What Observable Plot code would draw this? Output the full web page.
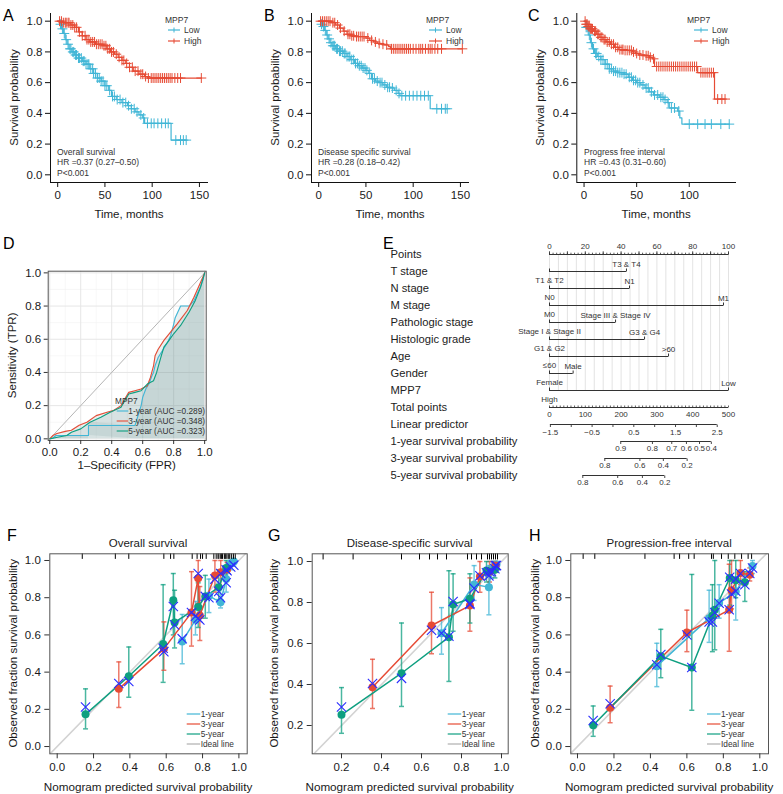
<!DOCTYPE html>
<html><head><meta charset="utf-8">
<script src="https://cdn.jsdelivr.net/npm/d3@7"></script>
<script src="https://cdn.jsdelivr.net/npm/@observablehq/plot@0.6"></script>
<style>
body{margin:0;background:#fff;}
#root{position:relative;width:783px;height:794px;overflow:hidden;font-family:"Liberation Sans",Arial,sans-serif;background:#fff;}
#root svg{overflow:visible;max-width:none;}
</style></head><body><div id="root"></div>
<script>
// ================= DATA =================
// --- Kaplan-Meier (A, B, C): step times (months) and survival ---
const kmGroups = ["Low", "High"];
const lowA_t = [0, 2, 4, 6, 8, 10, 12, 15, 18, 22, 26, 30, 34, 38, 42, 46, 50, 54, 57, 62, 68, 74, 78, 82, 86, 90, 92, 120, 136];
const lowA_s = [1.0, 0.98, 0.95, 0.92, 0.88, 0.85, 0.82, 0.80, 0.78, 0.76, 0.74, 0.72, 0.69, 0.66, 0.63, 0.61, 0.58, 0.55, 0.51, 0.49, 0.47, 0.45, 0.43, 0.41, 0.39, 0.37, 0.335, 0.226, 0.226];
const highA_t = [0, 6, 14, 18, 22, 26, 30, 34, 40, 48, 52, 56, 60, 64, 68, 72, 76, 80, 86, 92, 95, 152];
const highA_s = [1.0, 0.99, 0.975, 0.96, 0.93, 0.905, 0.88, 0.865, 0.85, 0.84, 0.82, 0.80, 0.785, 0.765, 0.745, 0.725, 0.70, 0.675, 0.655, 0.64, 0.63, 0.63];
const lowA_cens = [3,5,7,9,11,13,14,16,17,19,20,22,23,25,27,28,30,32,33,35,37,38,40,42,44,46,48,50,52,55,58,60,63,66,69,72,75,78,81,84,88,91,95,99,102,106,110,114,117,125,130,133,136];
const highA_cens = [2,4,6,8,9,11,12,14,16,18,20,23,26,29,31,33,35,37,39,41,43,45,47,49,51,53,55,57,59,62,65,68,70,73,76,79,82,85,88,90,93,96,99,101,103,105,107,109,111,113,115,117,119,121,124,127,130,152];

const lowB_t = [0, 2, 4, 6, 8, 10, 12, 14, 18, 22, 26, 30, 34, 38, 42, 46, 50, 53, 56, 60, 64, 68, 72, 76, 80, 84, 86, 118, 136];
const lowB_s = [1.0, 0.98, 0.965, 0.94, 0.91, 0.885, 0.86, 0.84, 0.82, 0.805, 0.79, 0.77, 0.75, 0.725, 0.71, 0.695, 0.68, 0.66, 0.625, 0.61, 0.60, 0.585, 0.57, 0.565, 0.55, 0.53, 0.515, 0.43, 0.43];
const highB_t = [0, 14, 18, 22, 26, 30, 34, 38, 50, 54, 58, 62, 66, 70, 74, 76, 152];
const highB_s = [1.0, 0.99, 0.975, 0.955, 0.935, 0.915, 0.905, 0.90, 0.89, 0.875, 0.865, 0.855, 0.85, 0.845, 0.835, 0.82, 0.82];
const lowB_cens = [3,5,7,9,11,13,15,16,17,19,20,22,23,25,27,28,30,32,33,35,37,39,41,43,45,47,49,51,54,57,59,62,65,67,70,73,75,78,82,85,88,92,96,100,104,108,112,116,125,130,134,136];
const highB_cens = [2,4,6,8,10,12,15,17,20,23,27,31,33,35,37,40,42,44,46,48,52,56,60,64,68,72,77,79,81,83,85,87,89,91,93,95,97,100,103,106,108,110,113,116,118,120,123,126,130,152];

const lowC_t = [0, 2, 4, 6, 8, 10, 13, 16, 20, 24, 28, 32, 38, 42, 46, 50, 54, 58, 62, 66, 72, 76, 79, 81, 89, 91, 93, 138];
const lowC_s = [1.0, 0.96, 0.91, 0.86, 0.82, 0.79, 0.77, 0.75, 0.72, 0.69, 0.675, 0.665, 0.655, 0.635, 0.615, 0.60, 0.585, 0.565, 0.54, 0.52, 0.505, 0.49, 0.47, 0.435, 0.415, 0.37, 0.33, 0.33];
const highC_t = [0, 2, 4, 6, 9, 12, 15, 18, 21, 25, 29, 33, 38, 46, 49, 52, 58, 62, 65, 67, 108, 124, 134];
const highC_s = [1.0, 0.98, 0.965, 0.95, 0.935, 0.915, 0.895, 0.88, 0.865, 0.85, 0.83, 0.815, 0.81, 0.80, 0.79, 0.78, 0.775, 0.765, 0.755, 0.705, 0.665, 0.493, 0.493];
const lowC_cens = [2,3,5,7,9,11,12,14,16,18,20,22,24,26,28,30,32,34,36,38,40,43,45,47,49,51,53,56,59,61,64,67,70,73,75,77,80,83,86,90,100,108,115,121,130,138];
const highC_cens = [1,2,3,4,5,6,7,8,10,11,13,14,16,17,19,20,22,24,26,28,30,32,34,36,37,39,41,43,45,47,50,53,56,59,61,63,66,69,71,73,75,77,79,81,83,85,87,89,91,93,95,97,99,101,103,105,107,111,113,115,117,119,121,123,127,131,134];

const kmYTicks = [0, 0.2, 0.4, 0.6, 0.8, 1.0];

// --- ROC (D) ---
const rocNames = ["1-year (AUC =0.289)", "3-year (AUC =0.348)", "5-year (AUC =0.323)"];
const roc1_fpr = [0, 0.02, 0.04, 0.14, 0.25, 0.25, 0.55, 0.59, 0.60, 0.62, 0.64, 0.66, 0.67, 0.68, 0.70, 0.72, 0.74, 0.76, 0.78, 0.80, 0.81, 0.845, 0.90, 0.93, 0.95, 0.974, 0.99, 1.0];
const roc1_tpr = [0, 0.005, 0.02, 0.02, 0.02, 0.08, 0.08, 0.20, 0.25, 0.30, 0.33, 0.38, 0.40, 0.44, 0.49, 0.52, 0.55, 0.58, 0.62, 0.69, 0.73, 0.80, 0.80, 0.83, 0.87, 0.92, 0.96, 1.0];
const roc3_fpr = [0, 0.02, 0.047, 0.10, 0.14, 0.19, 0.24, 0.30, 0.37, 0.41, 0.46, 0.51, 0.55, 0.59, 0.63, 0.65, 0.67, 0.68, 0.70, 0.737, 0.78, 0.823, 0.888, 0.931, 0.974, 1.0];
const roc3_tpr = [0, 0.02, 0.032, 0.045, 0.052, 0.082, 0.10, 0.14, 0.16, 0.17, 0.20, 0.28, 0.29, 0.30, 0.32, 0.37, 0.44, 0.50, 0.54, 0.593, 0.643, 0.693, 0.773, 0.853, 0.944, 1.0];
const roc5_fpr = [0, 0.05, 0.11, 0.14, 0.20, 0.26, 0.33, 0.39, 0.46, 0.51, 0.55, 0.59, 0.63, 0.67, 0.69, 0.72, 0.737, 0.77, 0.80, 0.845, 0.90, 0.94, 0.974, 1.0];
const roc5_tpr = [0, 0.01, 0.02, 0.04, 0.06, 0.10, 0.13, 0.16, 0.19, 0.27, 0.28, 0.29, 0.33, 0.35, 0.40, 0.50, 0.553, 0.593, 0.633, 0.683, 0.764, 0.834, 0.914, 1.0];
const rocMajor = [0, 0.2, 0.4, 0.6, 0.8, 1.0];
const rocMinor = [0.1, 0.3, 0.5, 0.7, 0.9];

// --- Nomogram (E) ---
const nomoRows = ["Points", "T stage", "N stage", "M stage", "Pathologic stage", "Histologic grade", "Age", "Gender", "MPP7", "Total points", "Linear predictor", "1-year survival probability", "3-year survival probability", "5-year survival probability"];
const nomoVars = ["T stage", "N stage", "M stage", "Pathologic stage", "Histologic grade", "Age", "Gender", "MPP7"];
const nomoLevelNames = [["T1 & T2", "T3 & T4"], ["N0", "N1"], ["M0", "M1"], ["Stage I & Stage II", "Stage III & Stage IV"], ["G1 & G2", "G3 & G4"], ["≤60", ">60"], ["Female", "Male"], ["High", "Low"]];
const nomoLevelPoints = [[0, 43], [0, 44.7], [0, 97.2], [0, 36.9], [0, 53.1], [0, 66.5], [0, 13.2], [0, 100]];
const pointsLabels = [0, 20, 40, 60, 80, 100];
const totalLabels = [0, 100, 200, 300, 400, 500];
const totalMax = 500;
const lpTicks = [-1.5, -1, -0.5, 0, 0.5, 1, 1.5, 2, 2.5];
const lpLabels = [-1.5, -0.5, 0.5, 1.5, 2.5];
const lpAtPoints = [[-1.5, 0.5], [2.5, 93.7]]; // linear predictor value at points position
const survProbs = [[0.9, 0.8, 0.7, 0.6, 0.5, 0.4], [0.8, 0.6, 0.4, 0.2], [0.8, 0.6, 0.4, 0.2]];
const survPointsPos = [[39.8, 57.5, 68.3, 76.5, 83.8, 90.4], [30.9, 50.5, 63.6, 76.9], [18.6, 38.1, 51.9, 64.4]];

// --- Calibration (F, G, H) ---
const calYears = ["1-year", "3-year", "5-year"];
// F: overall survival
const F1_p = [0.688, 0.761, 0.835, 0.899, 0.93, 0.955, 0.972];
const F1_o = [0.564, 0.681, 0.81, 0.775, 0.90, 0.985, 0.995];
const F1_lo = [0.445, 0.60, 0.72, 0.745, 0.83, 0.95, 0.97];
const F1_hi = [0.71, 0.78, 0.90, 0.90, 0.97, 1.0, 1.0];
const F1_x = [0.58, 0.70, 0.80, 0.80, 0.88, 0.965, 0.975];
const F3_p = [0.339, 0.587, 0.739, 0.776, 0.785, 0.868, 0.90, 0.935];
const F3_o = [0.31, 0.525, 0.72, 0.905, 0.705, 0.919, 0.937, 0.952];
const F3_lo = [0.21, 0.41, 0.54, 0.77, 0.57, 0.83, 0.86, 0.90];
const F3_hi = [0.455, 0.67, 0.94, 1.0, 0.86, 1.0, 1.0, 0.99];
const F3_x = [0.339, 0.51, 0.72, 0.93, 0.68, 0.90, 0.93, 0.945];
const F5_p = [0.156, 0.394, 0.583, 0.639, 0.646, 0.776, 0.815, 0.889, 0.93];
const F5_o = [0.173, 0.378, 0.551, 0.786, 0.667, 0.75, 0.807, 0.856, 0.96];
const F5_lo = [0.095, 0.265, 0.345, 0.60, 0.53, 0.64, 0.69, 0.79, 0.90];
const F5_hi = [0.31, 0.535, 0.87, 0.93, 0.84, 0.88, 0.92, 0.95, 1.0];
const F5_x = [0.213, 0.35, 0.528, 0.753, 0.654, 0.69, 0.807, 0.834, 0.95];
const F_rug = [0.138, 0.32, 0.394, 0.587, 0.624, 0.642, 0.743, 0.77, 0.789, 0.80, 0.82, 0.862, 0.875, 0.885, 0.89, 0.90, 0.905, 0.91, 0.92, 0.925, 0.93, 0.94, 0.945, 0.95, 0.96, 0.97, 0.98];
// G: disease-specific survival
const G1_p = [0.70, 0.863, 0.937, 0.95, 0.975];
const G1_o = [0.65, 0.888, 0.875, 0.96, 0.985];
const G1_lo = [0.548, 0.81, 0.74, 0.92, 0.96];
const G1_hi = [0.775, 0.98, 0.98, 1.0, 1.0];
const G1_x = [0.65, 0.87, 0.93, 0.95, 0.98];
const G3_p = [0.355, 0.65, 0.842, 0.892, 0.94, 0.97];
const G3_o = [0.387, 0.688, 0.785, 0.927, 0.95, 0.98];
const G3_lo = [0.283, 0.55, 0.66, 0.85, 0.90, 0.95];
const G3_hi = [0.523, 0.85, 0.92, 1.0, 1.0, 1.0];
const G3_x = [0.405, 0.665, 0.795, 0.93, 0.95, 0.98];
const G5_p = [0.2, 0.5, 0.737, 0.758, 0.842, 0.925, 0.967];
const G5_o = [0.252, 0.455, 0.631, 0.79, 0.818, 0.956, 0.96];
const G5_lo = [0.162, 0.293, 0.415, 0.66, 0.70, 0.90, 0.92];
const G5_hi = [0.385, 0.70, 0.955, 0.94, 0.94, 1.0, 1.0];
const G5_x = [0.29, 0.43, 0.635, 0.805, 0.79, 0.945, 0.965];
const G_rug = [0.108, 0.258, 0.50, 0.59, 0.64, 0.68, 0.725, 0.83, 0.85, 0.875, 0.90, 0.93, 0.94, 0.95, 0.96, 0.97, 0.98];
// H: progression-free interval
const H1_p = [0.435, 0.722, 0.777, 0.868, 0.96];
const H1_o = [0.432, 0.69, 0.771, 0.834, 0.97];
const H1_lo = [0.322, 0.56, 0.69, 0.68, 0.93];
const H1_hi = [0.555, 0.84, 0.87, 0.90, 1.0];
const H1_x = [0.44, 0.67, 0.77, 0.835, 0.96];
const H3_p = [0.179, 0.60, 0.832, 0.845, 0.894, 0.945];
const H3_o = [0.209, 0.613, 0.735, 0.84, 0.933, 0.924];
const H3_lo = [0.128, 0.51, 0.512, 0.74, 0.87, 0.89];
const H3_hi = [0.325, 0.733, 0.98, 1.0, 1.0, 0.96];
const H3_x = [0.23, 0.60, 0.735, 0.82, 0.93, 0.93];
const H5_p = [0.086, 0.457, 0.627, 0.74, 0.753, 0.835, 0.868, 0.918];
const H5_o = [0.114, 0.486, 0.425, 0.703, 0.735, 0.906, 0.894, 0.883];
const H5_lo = [0.055, 0.37, 0.195, 0.51, 0.52, 0.76, 0.80, 0.78];
const H5_hi = [0.218, 0.63, 0.925, 0.87, 1.0, 1.0, 1.0, 0.94];
const H5_x = [0.14, 0.495, 0.425, 0.67, 0.72, 0.91, 0.90, 0.87];
const H_rug = [0.031, 0.095, 0.37, 0.53, 0.56, 0.61, 0.64, 0.735, 0.745, 0.79, 0.827, 0.863, 0.90, 0.936, 0.955];

// ================= STYLE =================
const BLUE = "#41B6D6", RED = "#E64B35", GREEN = "#0E9F80", XBLUE = "#2a2cff";
const FONT = '"Liberation Sans", Arial, Helvetica, sans-serif';
const root = document.getElementById("root");
const baseStyle = {fontFamily: FONT, fontSize: "11.5px", background: "transparent", color: "#1a1a1a", overflow: "visible", maxWidth: "none"};

function mount(svg, left, top) {
  const d = document.createElement("div");
  d.style.cssText = `position:absolute;left:${left}px;top:${top}px;`;
  d.appendChild(svg);
  root.appendChild(d);
  return svg;
}
function label(svg, x, y, s, o = {}) {
  const t = d3.select(svg).append("text")
    .attr("x", x).attr("y", y).attr("dy", "0.35em")
    .attr("text-anchor", o.anchor || "start")
    .attr("font-size", o.size || 11.5)
    .attr("fill", o.fill || "#1a1a1a")
    .text(s);
  if (o.rotate) t.attr("transform", `rotate(${o.rotate},${x},${y})`);
  return t;
}
function seg(svg, x1, y1, x2, y2, stroke, w = 1.2) {
  d3.select(svg).append("line").attr("x1", x1).attr("y1", y1).attr("x2", x2).attr("y2", y2)
    .attr("stroke", stroke).attr("stroke-width", w);
}
const vtick = (L) => ({draw(ctx) { ctx.moveTo(0, 0); ctx.lineTo(0, -L); }});
const hcap = (w) => ({draw(ctx) { ctx.moveTo(-w, 0); ctx.lineTo(w, 0); }});
function stepAt(ts, ss, t) { let v = ss[0]; for (let i = 0; i < ts.length; i++) if (ts[i] <= t) v = ss[i]; return v; }

// ================= KM PANELS =================
function kmPanel(c) {
  const curves = [
    ...c.lowT.map((t, i) => ({t, s: c.lowS[i], g: "Low"})),
    ...c.highT.map((t, i) => ({t, s: c.highS[i], g: "High"}))
  ];
  const cens = [
    ...c.lowC.map(t => ({t, s: stepAt(c.lowT, c.lowS, t), g: "Low"})),
    ...c.highC.map(t => ({t, s: stepAt(c.highT, c.highS, t), g: "High"}))
  ];
  const yd = [-0.05, 1.05];
  const svg = Plot.plot({
    width: 261, height: 225, marginLeft: c.ml, marginRight: c.mr, marginTop: 13, marginBottom: 43,
    x: {domain: c.xd}, y: {domain: yd},
    color: {domain: kmGroups, range: [BLUE, RED]},
    style: baseStyle,
    marks: [
      Plot.ruleY([yd[0]], {stroke: "#111", strokeWidth: 1}),
      Plot.ruleX([c.xd[0]], {stroke: "#111", strokeWidth: 1}),
      Plot.axisX({ticks: c.xTicks, tickSize: 5, tickPadding: 3, fontSize: 11.5, label: null, stroke: "#111"}),
      Plot.axisY({ticks: kmYTicks, tickFormat: d3.format(".1f"), tickSize: 5, tickPadding: 3, fontSize: 11.5, label: null, stroke: "#111"}),
      Plot.line(curves, {x: "t", y: "s", z: "g", stroke: "g", curve: "step-after", strokeWidth: 1.2}),
      Plot.dot(cens, {x: "t", y: "s", stroke: "g", symbol: "plus", r: 3.3, strokeWidth: 1})
    ]
  });
  mount(svg, c.left, 0);
  label(svg, c.letterX, 15, c.letter, {size: 16, fill: "#000"});
  label(svg, c.ylabX, (13 + 182) / 2, "Survival probability", {anchor: "middle", rotate: -90});
  label(svg, (c.ml + 261 - c.mr) / 2, 214, "Time, months", {anchor: "middle"});
  // legend
  label(svg, 165, 20, "MPP7", {size: 8.5, fill: "#333"});
  [["Low", BLUE, 30], ["High", RED, 41]].forEach(([n, col, y]) => {
    seg(svg, c.legX1, y, c.legX2, y, col, 1.2);
    seg(svg, (c.legX1 + c.legX2) / 2, y - 2.5, (c.legX1 + c.legX2) / 2, y + 2.5, col, 1);
    label(svg, c.legX2 + 4, y, n, {size: 8.5, fill: "#333"});
  });
  c.note.forEach((s, i) => label(svg, c.noteX, 152 + i * 10.5, s, {size: 8.5, fill: "#333"}));
}
kmPanel({left: 0, ml: 50, mr: 53, xd: [-7.6, 159.6], xTicks: [0, 50, 100, 150], lowT: lowA_t, lowS: lowA_s, highT: highA_t, highS: highA_s, lowC: lowA_cens, highC: highA_cens,
  letter: "A", letterX: 3, ylabX: 14, legX1: 168, legX2: 180, noteX: 57, note: ["Overall survival", "HR =0.37 (0.27–0.50)", "P<0.001"]});
kmPanel({left: 261, ml: 50, mr: 53, xd: [-7.6, 159.6], xTicks: [0, 50, 100, 150], lowT: lowB_t, lowS: lowB_s, highT: highB_t, highS: highB_s, lowC: lowB_cens, highC: highB_cens,
  letter: "B", letterX: 3, ylabX: 14, legX1: 168, legX2: 181, noteX: 57, note: ["Disease specific survival", "HR =0.28 (0.18–0.42)", "P<0.001"]});
kmPanel({left: 522, ml: 54.3, mr: 47, xd: [-6.9, 144.9], xTicks: [0, 50, 100], lowT: lowC_t, lowS: lowC_s, highT: highC_t, highS: highC_s, lowC: lowC_cens, highC: highC_cens,
  letter: "C", letterX: 6, ylabX: 18, legX1: 172, legX2: 186, noteX: 62, note: ["Progress free interval", "HR =0.43 (0.31–0.60)", "P<0.001"]});

// ================= ROC PANEL (D) =================
(function () {
  const mk = (f, t, g) => f.map((x, i) => ({fpr: x, tpr: t[i], g}));
  const r1 = mk(roc1_fpr, roc1_tpr, rocNames[0]), r3 = mk(roc3_fpr, roc3_tpr, rocNames[1]), r5 = mk(roc5_fpr, roc5_tpr, rocNames[2]);
  const all = [...r1, ...r3, ...r5];
  const diag = [0, 1];
  const svg = Plot.plot({
    width: 260, height: 245, marginLeft: 47.7, marginRight: 54.3, marginTop: 40.7, marginBottom: 35,
    x: {domain: [-0.01, 1.01]}, y: {domain: [-0.01, 1.01]},
    color: {domain: rocNames, range: [BLUE, RED, GREEN]},
    style: baseStyle,
    marks: [
      Plot.ruleX(rocMinor, {stroke: "#f2f2f2", strokeWidth: 0.6}),
      Plot.ruleY(rocMinor, {stroke: "#f2f2f2", strokeWidth: 0.6}),
      Plot.ruleX(rocMajor, {stroke: "#e6e6e6", strokeWidth: 1}),
      Plot.ruleY(rocMajor, {stroke: "#e6e6e6", strokeWidth: 1}),
      Plot.areaY(r1, {x: "fpr", y: "tpr", fill: "#4f8580", fillOpacity: 0.12}),
      Plot.areaY(r3, {x: "fpr", y: "tpr", fill: "#4f8580", fillOpacity: 0.12}),
      Plot.areaY(r5, {x: "fpr", y: "tpr", fill: "#4f8580", fillOpacity: 0.12}),
      Plot.line(diag, {x: d => d, y: d => d, stroke: "#b5b5b5", strokeWidth: 1}),
      Plot.line(all, {x: "fpr", y: "tpr", z: "g", stroke: "g", strokeWidth: 1.1}),
      Plot.frame({stroke: "#555", strokeWidth: 1}),
      Plot.axisX({ticks: rocMajor, tickFormat: d3.format(".1f"), tickSize: 4, tickPadding: 3, fontSize: 11.5, label: null, stroke: "#333"}),
      Plot.axisY({ticks: rocMajor, tickFormat: d3.format(".1f"), tickSize: 4, tickPadding: 3, fontSize: 11.5, label: null, stroke: "#333"})
    ]
  });
  mount(svg, 0, 230);
  label(svg, 3, 13, "D", {size: 16, fill: "#000"});
  label(svg, 12, (40.7 + 210) / 2, "Sensitivity (TPR)", {anchor: "middle", rotate: -90});
  label(svg, (47.7 + 205.7) / 2, 235, "1–Specificity (FPR)", {anchor: "middle"});
  label(svg, 115, 171, "MPP7", {size: 8.3, fill: "#333"});
  [[rocNames[0], BLUE, 181], [rocNames[1], RED, 191], [rocNames[2], GREEN, 201]].forEach(([n, col, y]) => {
    seg(svg, 116.7, y, 128.3, y, col, 1.1);
    label(svg, 128.3, y, n, {size: 8.3, fill: "#333"});
  });
})();

// ================= NOMOGRAM (E) =================
(function () {
  const rowY = (r) => () => r;
  const levels = [];
  nomoVars.forEach((v, i) => nomoLevelNames[i].forEach((n, j) => levels.push({row: v, name: n, pts: nomoLevelPoints[i][j], j})));
  const varLines = nomoVars.map((v, i) => ({row: v, max: d3.max(nomoLevelPoints[i])}));
  const totalPos = (t) => t / totalMax * 100;
  const lpPos = (lp) => lpAtPoints[0][1] + (lp - lpAtPoints[0][0]) * (lpAtPoints[1][1] - lpAtPoints[0][1]) / (lpAtPoints[1][0] - lpAtPoints[0][0]);
  const pointTicks = d3.range(0, 101, 2);
  const pointMajor = d3.range(0, 101, 10);
  const gridLines = d3.range(0, 101, 5);
  const totalTicks = d3.range(0, totalMax + 1, 10);
  const survRows = nomoRows.slice(11);
  const survTicks = [];
  survRows.forEach((r, i) => survProbs[i].forEach((p, j) => survTicks.push({row: r, p, pos: survPointsPos[i][j]})));
  const survLines = survRows.map((r, i) => ({row: r, a: survPointsPos[i][0], b: survPointsPos[i][survPointsPos[i].length - 1]}));
  const ink = "#333";
  const fs = 8;
  const svg = Plot.plot({
    width: 403, height: 265, marginLeft: 169, marginRight: 55, marginTop: 18, marginBottom: 14.3,
    x: {domain: [0, 100], axis: null}, y: {type: "point", domain: nomoRows, padding: 0, axis: null},
    style: baseStyle,
    marks: [
      Plot.ruleX(gridLines, {x: d => d, y1: rowY("Points"), y2: rowY("MPP7"), stroke: "#dcdcdc", strokeWidth: 0.8}),
      // Points axis
      Plot.ruleY(["Points"], {y: d => d, x1: 0, x2: 100, stroke: ink}),
      Plot.dot(pointTicks, {x: d => d, y: rowY("Points"), symbol: vtick(1.8), stroke: ink, fill: "none", strokeWidth: 0.8}),
      Plot.dot(pointMajor, {x: d => d, y: rowY("Points"), symbol: vtick(3.2), stroke: ink, fill: "none", strokeWidth: 0.9}),
      Plot.text(pointsLabels, {x: d => d, y: rowY("Points"), dy: -8, text: d => String(d), fontSize: fs, fill: ink}),
      // variables
      Plot.ruleY(varLines, {y: "row", x1: 0, x2: "max", stroke: ink, strokeWidth: 1}),
      Plot.dot(levels, {x: "pts", y: "row", symbol: vtick(3), stroke: ink, fill: "none", strokeWidth: 1}),
      Plot.text(levels.filter(d => d.j === 0), {x: "pts", y: "row", dy: 9.3, text: "name", fontSize: fs, fill: ink}),
      Plot.text(levels.filter(d => d.j === 1), {x: "pts", y: "row", dy: -7.4, text: "name", fontSize: fs, fill: ink}),
      // Total points
      Plot.ruleY(["Total points"], {y: d => d, x1: 0, x2: 100, stroke: ink}),
      Plot.dot(totalTicks, {x: totalPos, y: rowY("Total points"), symbol: vtick(2), stroke: ink, fill: "none", strokeWidth: 0.8}),
      Plot.text(totalLabels, {x: totalPos, y: rowY("Total points"), dy: 6.5, text: d => String(d), fontSize: fs, fill: ink}),
      // Linear predictor
      Plot.ruleY(["Linear predictor"], {y: d => d, x1: lpPos(lpTicks[0]), x2: lpPos(lpTicks[lpTicks.length - 1]), stroke: ink}),
      Plot.dot(lpTicks, {x: lpPos, y: rowY("Linear predictor"), symbol: vtick(-2.5), stroke: ink, fill: "none", strokeWidth: 0.9}),
      Plot.text(lpLabels, {x: lpPos, y: rowY("Linear predictor"), dy: 7.5, text: d => d3.format(".1f")(d).replace("-", "−"), fontSize: fs, fill: ink}),
      // survival probability rows
      Plot.ruleY(survLines, {y: "row", x1: "a", x2: "b", stroke: ink}),
      Plot.dot(survTicks, {x: "pos", y: "row", symbol: vtick(-2.5), stroke: ink, fill: "none", strokeWidth: 0.9}),
      Plot.text(survTicks, {x: "pos", y: "row", dy: 6.5, text: d => String(d.p), fontSize: fs, fill: ink}),
      // row labels
      Plot.text(nomoRows, {y: d => d, frameAnchor: "left", dx: -159, textAnchor: "start", fontSize: 11.2, fill: "#222"})
    ]
  });
  mount(svg, 380, 230);
  label(svg, 3, 13, "E", {size: 16, fill: "#000"});
})();

// ================= CALIBRATION (F, G, H) =================
function calPanel(c) {
  const rows = [];
  c.series.forEach((s, k) => s.p.forEach((p, i) => rows.push({p, o: s.o[i], lo: s.lo[i], hi: s.hi[i], xc: s.x[i], g: calYears[k]})));
  const top = c.yd[1];
  const ideal = [-0.2, 1.2];
  const svg = Plot.plot({
    width: 261, height: 294, marginLeft: c.ml, marginRight: c.mr, marginTop: 53.3, marginBottom: 40.7,
    x: {domain: c.xd}, y: {domain: c.yd},
    color: {domain: calYears, range: [BLUE, RED, GREEN]},
    style: baseStyle,
    marks: [
      Plot.line(ideal, {x: d => d, y: d => d, stroke: "#d3d3d3", strokeWidth: 1.6, clip: true}),
      Plot.ruleX(rows, {x: "p", y1: "lo", y2: "hi", stroke: "g", strokeOpacity: 0.75, strokeWidth: 1.5}),
      Plot.dot(rows, {x: "p", y: "lo", symbol: hcap(2.5), stroke: "g", fill: "none", strokeOpacity: 0.75, strokeWidth: 1.5}),
      Plot.dot(rows, {x: "p", y: "hi", symbol: hcap(2.5), stroke: "g", fill: "none", strokeOpacity: 0.75, strokeWidth: 1.5}),
      Plot.line(rows, {x: "p", y: "o", z: "g", stroke: "g", strokeWidth: 1.5}),
      Plot.dot(rows, {x: "p", y: "o", fill: "g", r: 4, stroke: "none"}),
      Plot.dot(rows, {x: "p", y: "xc", symbol: "times", stroke: XBLUE, r: 4.3, strokeWidth: 1.1}),
      Plot.ruleX(c.rug, {x: d => d, y1: top, y2: top - 0.03, stroke: "#000", strokeWidth: 1}),
      Plot.frame({stroke: "#555", strokeWidth: 1}),
      Plot.axisX({ticks: c.ticksX, tickFormat: d3.format(".1f"), tickSize: 5, tickPadding: 4, fontSize: 11.5, label: null, stroke: "#333"}),
      Plot.axisY({ticks: c.ticksY, tickFormat: d3.format(".1f"), tickSize: 5, tickPadding: 4, fontSize: 11.5, label: null, stroke: "#333"})
    ]
  });
  mount(svg, c.left, 500);
  const cx = (c.ml + 261 - c.mr) / 2;
  label(svg, 7, 35, c.letter, {size: 16, fill: "#000"});
  label(svg, cx, 43, c.title, {anchor: "middle"});
  label(svg, 13, 153.3, "Observed fraction survival probability", {anchor: "middle", rotate: -90});
  label(svg, cx, 286.7, "Nomogram predicted survival probability", {anchor: "middle", size: 11.7});
  const leg = [["1-year", BLUE, 1.2], ["3-year", RED, 1.2], ["5-year", GREEN, 1.2], ["Ideal line", "#cfcfcf", 2]];
  leg.forEach(([n, col, w], i) => {
    const y = 214 + i * 10;
    seg(svg, c.legX, y, c.legX + 13.5, y, col, w);
    label(svg, c.legX + 14, y, n, {size: 8.3, fill: "#333"});
  });
}
const ticks01 = [0, 0.2, 0.4, 0.6, 0.8, 1.0];
const ticks21 = [0.2, 0.4, 0.6, 0.8, 1.0];
calPanel({left: 0, ml: 49.3, mr: 14.3, xd: [-0.0407, 1.0457], yd: [-0.039, 1.036], ticksX: ticks01, ticksY: ticks01, letter: "F", title: "Overall survival", rug: F_rug, legX: 186.7,
  series: [{p: F1_p, o: F1_o, lo: F1_lo, hi: F1_hi, x: F1_x}, {p: F3_p, o: F3_o, lo: F3_lo, hi: F3_hi, x: F3_x}, {p: F5_p, o: F5_o, lo: F5_lo, hi: F5_hi, x: F5_x}]});
calPanel({left: 261, ml: 50.7, mr: 14.3, xd: [0.0535, 1.0335], yd: [0.062, 1.0376], ticksX: ticks21, ticksY: ticks21, letter: "G", title: "Disease-specific survival", rug: G_rug, legX: 186.7,
  series: [{p: G1_p, o: G1_o, lo: G1_lo, hi: G1_hi, x: G1_x}, {p: G3_p, o: G3_o, lo: G3_lo, hi: G3_hi, x: G3_x}, {p: G5_p, o: G5_o, lo: G5_lo, hi: G5_hi, x: G5_x}]});
calPanel({left: 522, ml: 48.3, mr: 15, xd: [-0.0367, 1.0477], yd: [-0.039, 1.036], ticksX: ticks01, ticksY: ticks01, letter: "H", title: "Progression-free interval", rug: H_rug, legX: 185,
  series: [{p: H1_p, o: H1_o, lo: H1_lo, hi: H1_hi, x: H1_x}, {p: H3_p, o: H3_o, lo: H3_lo, hi: H3_hi, x: H3_x}, {p: H5_p, o: H5_o, lo: H5_lo, hi: H5_hi, x: H5_x}]});
</script></body></html>
